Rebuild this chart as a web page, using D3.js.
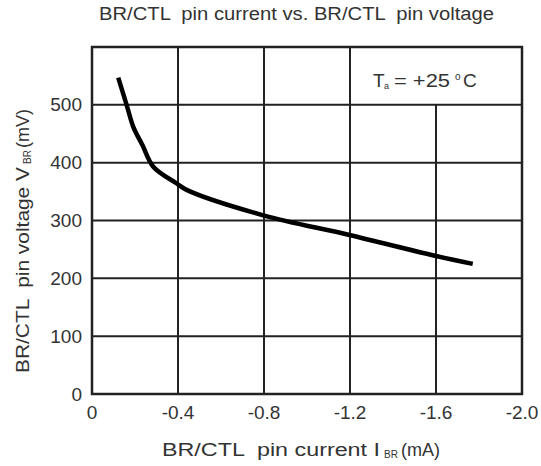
<!DOCTYPE html>
<html><head><meta charset="utf-8">
<script src="https://cdn.jsdelivr.net/npm/d3@7"></script>
<style>
body{margin:0;background:#fff;}
svg{display:block;font-family:"Liberation Sans",Arial,sans-serif;}
</style></head>
<body>
<script>
// data: BR/CTL pin current (mA, negative) vs pin voltage (mV)
const currentMA = [-0.122, -0.161, -0.192, -0.235, -0.285, -0.394, -0.44, -0.797, -1.197, -1.595, -1.771];
const voltageMV = [547, 500, 462, 430, 393, 364, 353, 309, 275, 239, 225];
const xTicks = [0, -0.4, -0.8, -1.2, -1.6, -2.0];
const xTickLabels = ["0", "-0.4", "-0.8", "-1.2", "-1.6", "-2.0"];
const yTicks = [0, 100, 200, 300, 400, 500];
const yTickLabels = ["0", "100", "200", "300", "400", "500"];

const W = 541, H = 466;
const m = {l: 92, r: 19, t: 47, b: 72};
const svg = d3.select("body").append("svg").attr("width", W).attr("height", H);
const x = d3.scaleLinear().domain([0, -2.0]).range([m.l, W - m.r]);
const y = d3.scaleLinear().domain([0, 600]).range([H - m.b, m.t]);
const col = "#222";
const tcol = "#333";

// horizontal gridlines
svg.append("g").selectAll("line").data(yTicks.slice(1)).join("line")
  .attr("x1", x(0)).attr("x2", x(-2.0))
  .attr("y1", d => y(d)).attr("y2", d => y(d))
  .attr("stroke", col).attr("stroke-width", 2);
// vertical gridlines (the one at -1.6 stops below the legend cell)
svg.append("g").selectAll("line").data(xTicks.slice(1, -1)).join("line")
  .attr("x1", d => x(d)).attr("x2", d => x(d))
  .attr("y1", d => d === -1.6 ? y(500) : y(600)).attr("y2", y(0))
  .attr("stroke", col).attr("stroke-width", 2);
// frame
svg.append("rect").attr("x", x(0)).attr("y", y(600))
  .attr("width", x(-2.0) - x(0)).attr("height", y(0) - y(600))
  .attr("fill", "none").attr("stroke", col).attr("stroke-width", 2.5);

// curve
const pts = currentMA.map((c, i) => [c, voltageMV[i]]);
svg.append("path").datum(pts)
  .attr("d", d3.line().x(d => x(d[0])).y(d => y(d[1])).curve(d3.curveCatmullRom.alpha(0.5)))
  .attr("fill", "none").attr("stroke", "#000").attr("stroke-width", 4.5)
  .attr("stroke-linecap", "butt").attr("stroke-linejoin", "round");

// tick labels
svg.append("g").selectAll("text").data(yTicks).join("text")
  .attr("x", m.l - 10).attr("y", d => y(d)).attr("dy", "0.35em")
  .attr("text-anchor", "end").attr("font-size", 19).attr("fill", tcol)
  .text((d, i) => yTickLabels[i]);
svg.append("g").selectAll("text").data(xTicks).join("text")
  .attr("x", d => x(d)).attr("y", y(0) + 25)
  .attr("text-anchor", "middle").attr("font-size", 19).attr("fill", tcol)
  .text((d, i) => xTickLabels[i]);

// title
svg.append("text").attr("x", 99).attr("y", 20)
  .attr("font-size", 18).attr("fill", tcol).attr("xml:space", "preserve")
  .attr("textLength", 395).attr("lengthAdjust", "spacingAndGlyphs")
  .text("BR/CTL  pin current vs. BR/CTL  pin voltage");

// x axis title
const xt = svg.append("text").attr("y", 456)
  .attr("font-size", 18).attr("fill", tcol).attr("xml:space", "preserve");
xt.append("tspan").attr("x", 162).attr("textLength", 218).attr("lengthAdjust", "spacingAndGlyphs").text("BR/CTL  pin current I");
xt.append("tspan").attr("x", 384).attr("font-size", 10).attr("dy", 2).text("BR");
xt.append("tspan").attr("x", 401).attr("dy", -2).text("(mA)");

// y axis title
const yt = svg.append("text").attr("transform", `translate(29,0) rotate(-90)`)
  .attr("font-size", 18).attr("fill", tcol).attr("xml:space", "preserve");
yt.append("tspan").attr("x", -373).attr("textLength", 206).attr("lengthAdjust", "spacingAndGlyphs").text("BR/CTL  pin voltage V");
yt.append("tspan").attr("x", -164).attr("font-size", 10).attr("dy", 2).text("BR");
yt.append("tspan").attr("x", -148).attr("dy", -2).text("(mV)");

// legend cell text
const lt = svg.append("text").attr("y", 87)
  .attr("font-size", 19).attr("fill", tcol).attr("xml:space", "preserve");
lt.append("tspan").attr("x", 373).text("T");
lt.append("tspan").attr("x", 384).attr("font-size", 9).attr("dy", 2).text("a");
lt.append("tspan").attr("x", 394).attr("dy", -2).attr("textLength", 56).attr("lengthAdjust", "spacingAndGlyphs").text("= +25");
lt.append("tspan").attr("x", 455).attr("font-size", 10).attr("dy", -7).text("o");
lt.append("tspan").attr("x", 463).attr("dy", 7).text("C");
</script>
</body></html>
